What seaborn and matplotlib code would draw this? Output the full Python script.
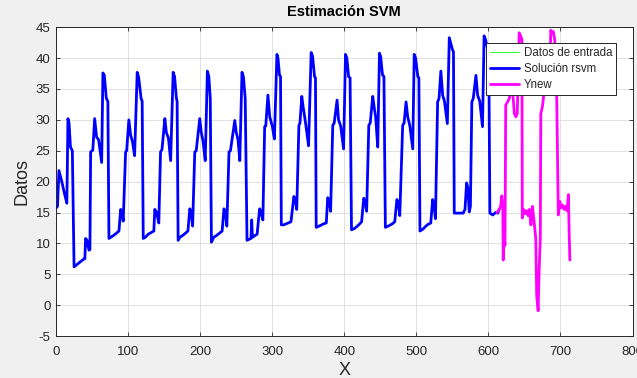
import numpy as np
import pandas as pd
import matplotlib
matplotlib.use("Agg")
import matplotlib.pyplot as plt
import seaborn as sns

# Breakpoints (x = sample index, y = value)
x_rsvm = [0, 2, 4, 8, 12, 15, 16.5, 18, 20, 22.6, 25,
          38.8, 40, 41, 43, 45.7, 47, 48, 51, 53.6, 56.3, 59, 63.3, 65, 67, 69.7, 71.9, 73.4,
          76, 80, 87.3, 89.6, 91.5, 93.2, 96.5, 98, 101, 103.5, 106, 109, 112.6, 114.5, 118, 119.5, 121,
          124, 128, 135.7, 137, 139.5, 142.6, 145, 147, 151, 153, 156, 159, 162.5, 164.5, 167, 168, 169.4,
          172, 176, 183, 185.6, 187.5, 189.5, 192.5, 194.5, 199.4, 201.5, 204, 207, 210, 212, 214, 215.6,
          219, 223, 230.5, 233, 235, 237, 240, 242, 248, 250, 252.5, 255, 258, 260, 262.5, 265,
          270.5, 271.5, 272.5, 279, 282.5, 284.5, 287, 289.5, 291, 294, 296.5, 300, 303, 306.5, 308, 310, 311.5, 312.6,
          316, 322, 326, 330, 332, 334, 337, 338.5, 341, 343, 345, 348, 350.4, 354, 356, 358.7, 360, 361,
          365, 372, 375, 377, 379, 381, 384, 386, 390, 392, 395, 399, 401.7, 403.5, 406, 408, 410,
          414, 420, 424, 427, 429, 431, 434, 436, 439.5, 441.5, 443.5, 446.4, 448.8, 450.5, 453, 455, 457,
          461, 467, 470, 473, 475, 477, 481, 483, 485.7, 488, 491, 495, 497, 499, 502, 503.5, 505,
          509, 515, 520, 522.6, 524.5, 526.5, 529.5, 531.5, 534, 536.5, 539, 543, 545.7, 547.5, 550, 551.5, 552.6,
          558, 565, 567.5, 569.7, 571.5, 573.4, 575, 577, 579, 582.7, 585, 588, 591.8, 594, 596, 598.8, 600.5, 602,
          606, 610, 613, 615]
y_rsvm = [15.7, 16, 21.8, 20, 17.9, 16.5, 30.2, 29.5, 25.6, 25, 6.2,
          7.5, 7.5, 10.8, 10.5, 8.9, 9, 24.8, 25.1, 30.2, 27.2, 26.8, 23.1, 37.6, 37.2, 33.5, 33, 10.8,
          11, 11.3, 12, 15.5, 15.2, 13.6, 24.8, 25, 30, 27.5, 26.5, 24.2, 37.7, 37, 33.5, 33, 10.8,
          11, 11.5, 12, 15.5, 15, 13.3, 24.8, 25.2, 30.2, 28, 27, 23.4, 37.7, 37, 33.5, 33, 10.5,
          11, 11.3, 12, 15.6, 15, 12.8, 24.8, 25, 30.2, 28, 26.5, 23.4, 37.9, 37, 33.5, 10.2,
          11, 11.3, 12, 15.6, 15, 12.8, 24.8, 25, 29.9, 28, 26.8, 23.4, 37.7, 37, 33.5, 10.5,
          10.8, 13.8, 11, 11.5, 15.6, 15, 13.8, 28.9, 29, 34, 30.5, 29, 26.9, 40.6, 40, 37.3, 37, 13,
          13, 13.3, 13.5, 17.6, 17, 15.5, 29.1, 29.5, 33.8, 32, 30.5, 28, 25.8, 40.9, 40.3, 37, 36.8, 12.6,
          12.8, 13.2, 13.3, 17.4, 17, 15.2, 29.1, 29.5, 33.2, 30, 29, 25.3, 40.6, 40, 37, 36.8, 12.2,
          12.4, 13, 13.5, 17.3, 16.8, 15.2, 29.1, 29.5, 33.8, 32, 30.5, 25.6, 40.8, 40.2, 37.3, 37, 12.6,
          12.8, 13.2, 13.5, 17.1, 16.5, 14.5, 29.1, 29.5, 32.9, 30.5, 29, 25.3, 40.6, 40, 37, 36.8, 12,
          12.3, 13, 13.3, 17.1, 16, 14, 32.9, 33.5, 37.9, 34, 33, 29.4, 43.3, 42.5, 41.4, 41, 14.9,
          14.9, 14.9, 15.5, 19.8, 19, 15.1, 16, 32.9, 33.5, 37.2, 34, 33, 28.9, 43.6, 43, 41.5, 41, 14.9,
          14.6, 15, 14.9, 15.5]

x_ynew = [612, 615, 617, 618.6, 620, 620.5, 622, 623, 624, 627, 629, 632, 634, 636, 638, 640,
          642.7, 645, 646.5, 647, 649, 651, 653, 655, 657, 659, 661, 663, 665.7, 667, 669, 670.5, 672,
          672.7, 675, 677, 679, 681, 683, 684.5, 686.6, 688, 690, 692, 694.5, 697, 699, 701, 703, 705,
          707, 709, 711, 712, 713]
y_ynew = [15, 15.5, 16, 17.7, 16, 7.3, 11, 9.7, 32.4, 33, 33.5, 35.4, 34, 31, 30.5, 31,
          44.1, 43.5, 43, 14.1, 15.5, 14.8, 15.3, 14.5, 15.5, 13, 16, 14, 10.8, 1.5, -0.9, 6, 10.8,
          31, 32.2, 34.3, 34.8, 34.3, 35, 34.8, 44.5, 44, 44.3, 43, 36, 14.6, 16.8, 15.8, 16.2, 15.5,
          16, 15.3, 17.9, 12, 7.3]

x_ticks = [0, 100, 200, 300, 400, 500, 600, 700, 800]
y_ticks = [-5, 0, 5, 10, 15, 20, 25, 30, 35, 40, 45]

sns.set_style("whitegrid")
plt.rcParams['font.family'] = ['Liberation Sans', 'DejaVu Sans']
plt.rcParams['axes.unicode_minus'] = False

fig = plt.figure(figsize=(6.37, 3.78), dpi=100, facecolor='#f0f0f0')
ax = fig.add_axes([0.088, 0.111, 0.905, 0.817])
ax.set_facecolor('white')

df_in = pd.DataFrame({'x': x_rsvm, 'y': y_rsvm})
df_new = pd.DataFrame({'x': x_ynew, 'y': y_ynew})

sns.lineplot(data=df_in, x='x', y='y', ax=ax, color='#00ff00', lw=0.6,
             estimator=None, sort=False, label='Datos de entrada')
sns.lineplot(data=df_in, x='x', y='y', ax=ax, color='#0000ff', lw=2.0,
             estimator=None, sort=False, label='Solución rsvm')
sns.lineplot(data=df_new, x='x', y='y', ax=ax, color='#ff00ff', lw=2.0,
             estimator=None, sort=False, label='Ynew')

ax.set_xlim(0, 800)
ax.set_ylim(-5, 45)
ax.set_xticks(x_ticks)
ax.set_yticks(y_ticks)
ax.tick_params(direction='in', length=3, width=0.6, colors='#262626',
               labelsize=9.5, top=True, right=True, bottom=True, left=True,
               labelcolor='#262626')
ax.tick_params(axis='x', pad=7)
ax.tick_params(axis='y', pad=4)
ax.grid(True, color='#dcdcdc', lw=0.6)
for s in ax.spines.values():
    s.set_color('#262626')
    s.set_linewidth(0.7)

ax.set_title('Estimación SVM', fontsize=10.5, fontweight='bold', color='black', pad=8)
ax.set_xlabel('X', fontsize=13, color='#262626', labelpad=3)
ax.set_ylabel('Datos', fontsize=13, color='#262626', labelpad=4)

leg = ax.legend(loc='upper right', bbox_to_anchor=(0.982, 0.968), fontsize=8.3,
                frameon=True, fancybox=False, edgecolor='#262626', framealpha=1,
                handlelength=2.5, borderpad=0.35, labelspacing=0.35, handletextpad=0.4)
leg.get_frame().set_linewidth(0.7)

fig.savefig('out.png', dpi=100, facecolor=fig.get_facecolor())
